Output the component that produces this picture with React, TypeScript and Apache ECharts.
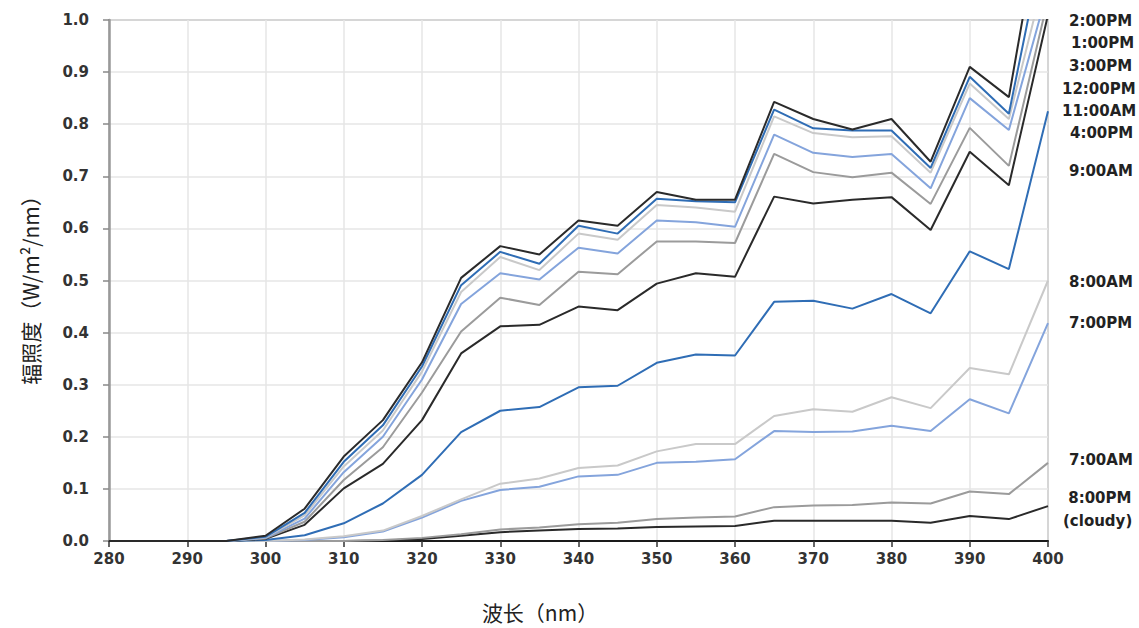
import React, { useEffect, useRef } from "react";
import * as echarts from "echarts";

const wavelengths = [280, 285, 290, 295, 300, 305, 310, 315, 320, 325, 330, 335, 340, 345, 350, 355, 360, 365, 370, 375, 380, 385, 390, 395, 400];

const seriesNames = ["2:00PM", "1:00PM", "3:00PM", "12:00PM", "11:00AM", "4:00PM", "9:00AM", "8:00AM", "7:00PM", "7:00AM", "8:00PM (cloudy)"];
const labelTexts = ["2:00PM", "1:00PM", "3:00PM", "12:00PM", "11:00AM", "4:00PM", "9:00AM", "8:00AM", "7:00PM", "7:00AM", " 8:00PM\n(cloudy)"];

const v2pm = [0, 0, 0, 0, 0.01, 0.062, 0.162, 0.232, 0.343, 0.505, 0.566, 0.55, 0.615, 0.605, 0.67, 0.655, 0.655, 0.843, 0.81, 0.79, 0.81, 0.728, 0.91, 0.852, 1.28];
const v1pm = [0, 0, 0, 0, 0.008, 0.054, 0.152, 0.222, 0.335, 0.491, 0.555, 0.532, 0.605, 0.59, 0.657, 0.652, 0.65, 0.828, 0.792, 0.788, 0.788, 0.716, 0.891, 0.82, 1.19];
const v3pm = [0, 0, 0, 0, 0.007, 0.049, 0.143, 0.212, 0.325, 0.478, 0.545, 0.52, 0.59, 0.578, 0.645, 0.64, 0.632, 0.815, 0.783, 0.775, 0.777, 0.707, 0.878, 0.81, 1.11];
const v12pm = [0, 0, 0, 0, 0.006, 0.043, 0.132, 0.2, 0.31, 0.455, 0.514, 0.502, 0.563, 0.552, 0.615, 0.612, 0.603, 0.78, 0.745, 0.737, 0.743, 0.677, 0.85, 0.789, 1.06];
const v11am = [0, 0, 0, 0, 0.005, 0.037, 0.117, 0.18, 0.285, 0.402, 0.467, 0.453, 0.517, 0.512, 0.575, 0.575, 0.572, 0.743, 0.708, 0.698, 0.707, 0.647, 0.793, 0.72, 1.04];
const v4pm = [0, 0, 0, 0, 0.004, 0.031, 0.101, 0.148, 0.232, 0.36, 0.412, 0.415, 0.45, 0.443, 0.494, 0.514, 0.507, 0.661, 0.648, 0.655, 0.66, 0.597, 0.747, 0.683, 1.01];
const v9am = [0, 0, 0, 0, 0.002, 0.011, 0.034, 0.072, 0.127, 0.209, 0.25, 0.257, 0.295, 0.298, 0.342, 0.358, 0.356, 0.459, 0.461, 0.446, 0.474, 0.437, 0.556, 0.522, 0.825];
const v8am = [0, 0, 0, 0, 0, 0.003, 0.009, 0.02, 0.048, 0.08, 0.11, 0.12, 0.14, 0.145, 0.172, 0.186, 0.186, 0.24, 0.253, 0.248, 0.276, 0.255, 0.332, 0.32, 0.5];
const v7pm = [0, 0, 0, 0, 0, 0.002, 0.007, 0.018, 0.045, 0.077, 0.098, 0.104, 0.124, 0.127, 0.15, 0.152, 0.157, 0.211, 0.209, 0.21, 0.221, 0.211, 0.272, 0.245, 0.418];
const v7am = [0, 0, 0, 0, 0, 0, 0, 0.002, 0.006, 0.013, 0.022, 0.026, 0.032, 0.035, 0.042, 0.045, 0.047, 0.065, 0.068, 0.069, 0.074, 0.072, 0.095, 0.09, 0.15];
const v8pm = [0, 0, 0, 0, 0, 0, 0, 0.001, 0.004, 0.01, 0.017, 0.02, 0.023, 0.024, 0.027, 0.028, 0.029, 0.039, 0.039, 0.039, 0.039, 0.035, 0.048, 0.042, 0.067];

const seriesValues = [v2pm, v1pm, v3pm, v12pm, v11am, v4pm, v9am, v8am, v7pm, v7am, v8pm];

const BLACK = "#2a2a2a";
const BLUE = "#2f6db5";
const LGRAY = "#c9c9c9";
const LBLUE = "#84a4dc";
const GRAY = "#9b9b9b";
const palette = [BLACK, BLUE, LGRAY, LBLUE, GRAY];

// layout of the right-side labels (pixels)
const labelLayout = [
  { x: 1069, y: 21 },
  { x: 1071, y: 43 },
  { x: 1069, y: 66 },
  { x: 1062, y: 89 },
  { x: 1062, y: 111 },
  { x: 1070, y: 133 },
  { x: 1069, y: 171 },
  { x: 1069, y: 282 },
  { x: 1069, y: 323 },
  { x: 1069, y: 460 },
  { x: 1063, y: 509 },
];

export default function App() {
  const ref = useRef<HTMLDivElement>(null);
  useEffect(() => {
    if (!ref.current) return;
    const chart = echarts.init(ref.current, undefined, { renderer: "svg" });
    const tickFont = { fontFamily: "DejaVu Sans", fontWeight: "bold" as const, fontSize: 15, color: "#333" };
    const series = seriesNames.map((name, i) => ({
      name,
      type: "line" as const,
      data: wavelengths.map((w, j) => [w, seriesValues[i][j]]),
      showSymbol: false,
      symbol: "none",
      clip: true,
      lineStyle: { color: palette[i % 5], width: 2 },
      itemStyle: { color: palette[i % 5] },
      z: 2 + (seriesNames.length - i),
    }));
    const labels = labelTexts.map((text, i) => ({
      type: "text" as const,
      x: labelLayout[i].x,
      y: labelLayout[i].y,
      style: {
        text,
        fontFamily: "DejaVu Sans",
        fontWeight: "bold",
        fontSize: 15,
        fill: "#222",
        align: "left",
        verticalAlign: "middle",
        lineHeight: 23,
      },
    }));
    chart.setOption({
      animation: false,
      backgroundColor: "#ffffff",
      grid: {
        left: 109,
        right: 91,
        top: 20,
        bottom: 87,
        show: true,
        borderColor: "#8a8a8a",
        borderWidth: 1.5,
      },
      xAxis: {
        type: "value",
        min: 280,
        max: 400,
        interval: 10,
        axisLine: { show: true, onZero: false, lineStyle: { color: "#1a1a1a", width: 2 } },
        axisTick: { show: true, inside: false, length: 6, lineStyle: { color: "#333", width: 1.5 } },
        axisLabel: { ...tickFont, margin: 10 },
        splitLine: { show: true, lineStyle: { color: "#e6e6e6", width: 1.5 } },
      },
      yAxis: {
        type: "value",
        min: 0,
        max: 1,
        interval: 0.1,
        axisLine: { show: true, lineStyle: { color: "#999", width: 2.5 } },
        axisTick: { show: true, inside: false, length: 6, lineStyle: { color: "#888", width: 1.5 } },
        axisLabel: { ...tickFont, margin: 20, formatter: (v: number) => v.toFixed(1) },
        splitLine: { show: true, lineStyle: { color: "#e6e6e6", width: 1.5 } },
      },
      series,
      graphic: [
        ...labels,
        {
          type: "text",
          x: 30,
          y: 285,
          rotation: Math.PI / 2,
          style: {
            text: "辐照度（W/m²/nm）",
            fontFamily: "Noto Sans CJK SC",
            fontSize: 21,
            fill: "#222",
            align: "center",
            verticalAlign: "middle",
          },
        },
        {
          type: "text",
          x: 540,
          y: 612,
          style: {
            text: "波长（nm）",
            fontFamily: "Noto Sans CJK SC",
            fontSize: 21,
            fill: "#222",
            align: "center",
            verticalAlign: "middle",
          },
        },
      ],
    });
    return () => chart.dispose();
  }, []);
  return (
    <div
      ref={ref}
      style={{ position: "fixed", left: 0, top: 0, width: 1139, height: 628, background: "#fff" }}
    />
  );
}
